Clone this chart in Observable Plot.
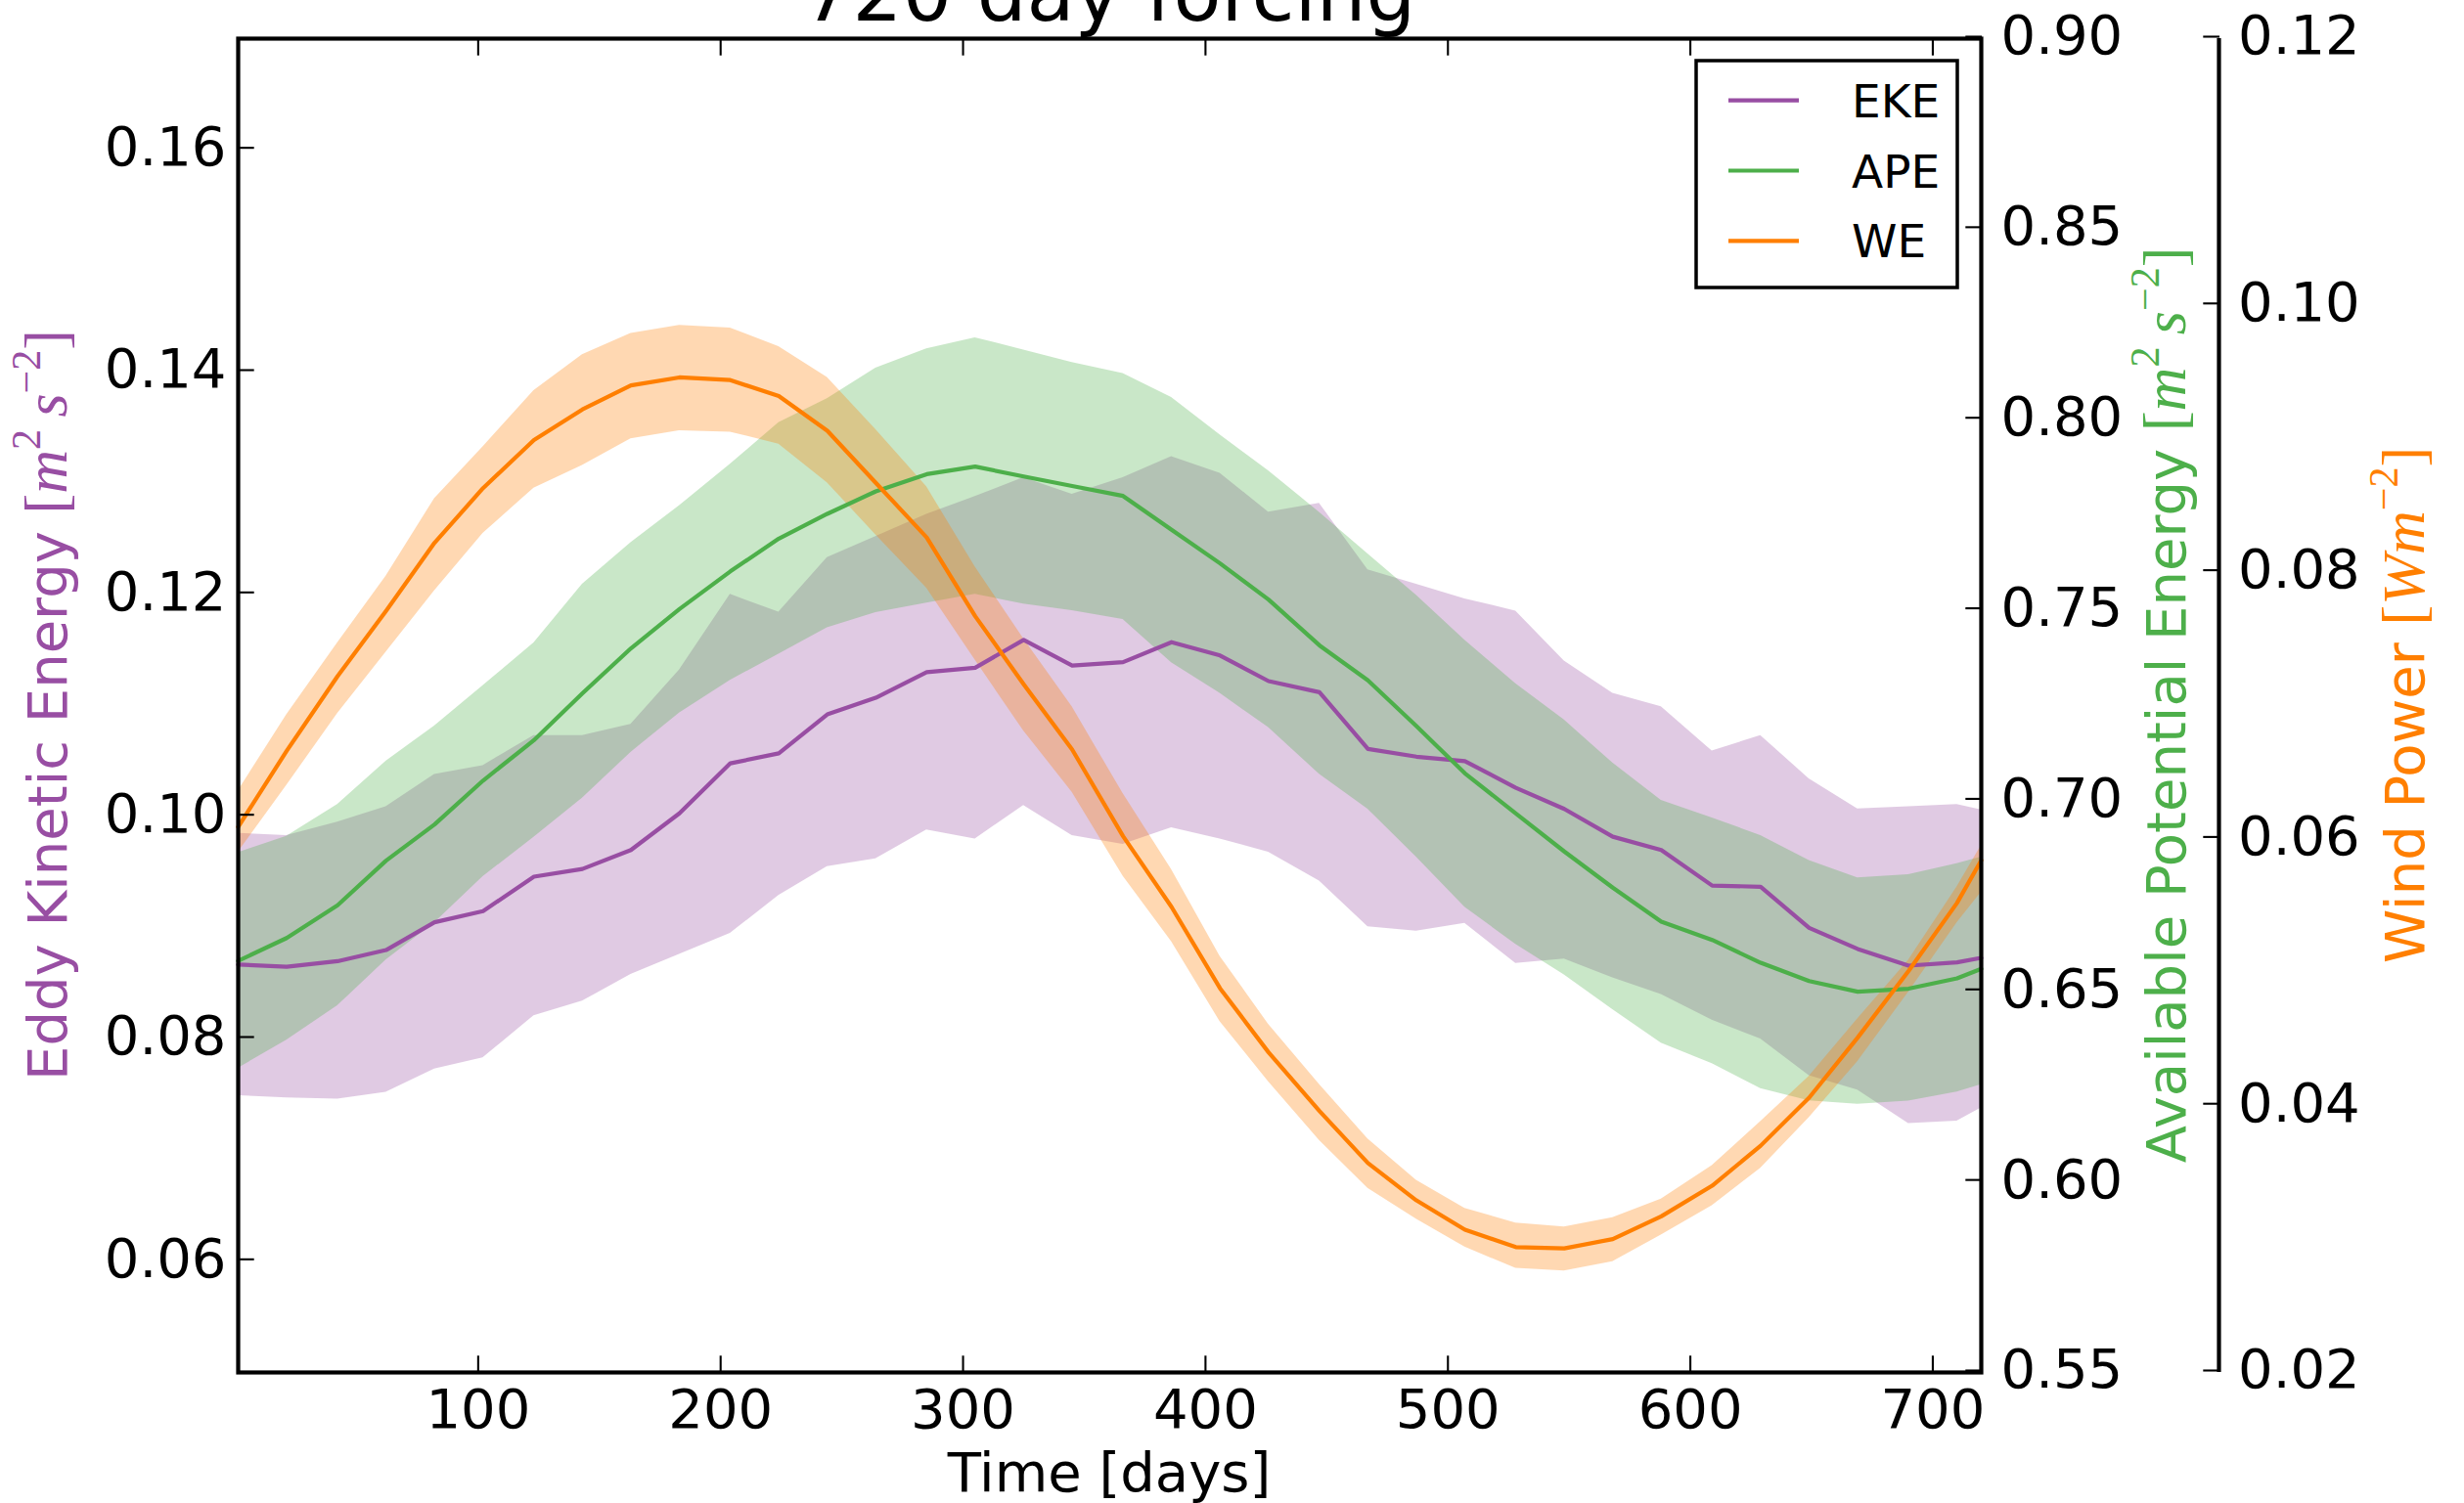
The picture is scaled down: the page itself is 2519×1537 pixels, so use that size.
<!DOCTYPE html>
<html>
<head>
<meta charset="utf-8">
<script src="https://cdn.jsdelivr.net/npm/d3@7"></script>
<script src="https://cdn.jsdelivr.net/npm/@observablehq/plot@0.6"></script>
<style>
  html, body { margin: 0; padding: 0; background: #fff; }
  svg { display: block; }
</style>
</head>
<body>
<div id="chart"></div>
<script>
// ---------------- data ----------------
const days = [1, 21, 42, 62, 82, 102, 123, 143, 163, 183, 204, 224, 244, 264, 285, 305, 325, 345, 366, 386,
  406, 426, 447, 467, 487, 507, 528, 548, 568, 588, 609, 629, 649, 669, 690, 710, 720];

const ekeMean = [0.0867,0.0865,0.0870,0.0880,0.0905,0.0915,0.0946,0.0953,0.0970,0.1003,
  0.1048,0.1057,0.1092,0.1107,0.1130,0.1134,0.1159,0.1136,0.1139,0.1157,
  0.1145,0.1122,0.1112,0.1061,0.1054,0.1050,0.1026,0.1007,0.0982,0.0970,
  0.0938,0.0937,0.0900,0.0881,0.0866,0.0869,0.0873];
const ekeUpper = [0.0985,0.0983,0.0995,0.1009,0.1038,0.1046,0.1073,0.1073,0.1083,0.1132,
  0.1200,0.1184,0.1233,0.1252,0.1272,0.1288,0.1305,0.1290,0.1305,0.1324,
  0.1309,0.1274,0.1282,0.1222,0.1209,0.1196,0.1185,0.1140,0.1111,0.1099,
  0.1059,0.1073,0.1034,0.1007,0.1009,0.1011,0.1006];
const ekeLower = [0.0749,0.0747,0.0746,0.0752,0.0773,0.0783,0.0821,0.0834,0.0858,0.0876,
  0.0895,0.0929,0.0955,0.0962,0.0988,0.0980,0.1010,0.0983,0.0975,0.0990,
  0.0980,0.0968,0.0942,0.0901,0.0897,0.0904,0.0868,0.0872,0.0855,0.0840,
  0.0817,0.0800,0.0767,0.0754,0.0724,0.0726,0.0738];

const apeMean = [0.6580,0.6640,0.6726,0.6843,0.6938,0.7053,0.7159,0.7282,0.7400,0.7503,
  0.7602,0.7688,0.7753,0.7812,0.7857,0.7877,0.7851,0.7826,0.7800,0.7711,
  0.7623,0.7528,0.7408,0.7316,0.7196,0.7072,0.6967,0.6867,0.6772,0.6683,
  0.6635,0.6575,0.6527,0.6499,0.6507,0.6534,0.6559];
const apeUpper = [0.6864,0.6907,0.6990,0.7104,0.7196,0.7302,0.7414,0.7568,0.7677,0.7774,
  0.7883,0.7992,0.8055,0.8135,0.8186,0.8215,0.8183,0.8150,0.8121,0.8058,
  0.7960,0.7866,0.7757,0.7648,0.7539,0.7421,0.7307,0.7212,0.7099,0.7001,
  0.6955,0.6909,0.6843,0.6798,0.6806,0.6835,0.6852];
const apeLower = [0.6298,0.6372,0.6462,0.6582,0.6680,0.6801,0.6904,0.7007,0.7127,0.7230,
  0.7316,0.7385,0.7454,0.7494,0.7519,0.7542,0.7516,0.7499,0.7476,0.7362,
  0.7282,0.7192,0.7070,0.6978,0.6852,0.6721,0.6623,0.6543,0.6452,0.6364,
  0.6310,0.6245,0.6213,0.6204,0.6212,0.6236,0.6255];

const weMean = [0.0609,0.0666,0.0722,0.0771,0.0822,0.0863,0.0899,0.0922,0.0940,0.0946,
  0.0944,0.0932,0.0906,0.0867,0.0826,0.0767,0.0716,0.0667,0.0602,0.0549,
  0.0488,0.0440,0.0396,0.0357,0.0329,0.0307,0.0294,0.0293,0.0300,0.0317,
  0.0340,0.0370,0.0406,0.0451,0.0501,0.0552,0.0584];
const weUpper = [0.0636,0.0693,0.0747,0.0797,0.0855,0.0894,0.0936,0.0963,0.0979,0.0985,
  0.0983,0.0969,0.0946,0.0907,0.0864,0.0804,0.0750,0.0699,0.0634,0.0577,
  0.0512,0.0461,0.0416,0.0375,0.0344,0.0323,0.0312,0.0309,0.0316,0.0330,
  0.0355,0.0388,0.0422,0.0465,0.0509,0.0564,0.0595];
const weLower = [0.0590,0.0640,0.0694,0.0740,0.0786,0.0829,0.0863,0.0880,0.0900,0.0906,
  0.0905,0.0896,0.0867,0.0828,0.0788,0.0734,0.0681,0.0635,0.0572,0.0523,
  0.0463,0.0418,0.0374,0.0338,0.0315,0.0294,0.0278,0.0276,0.0283,0.0303,
  0.0325,0.0353,0.0391,0.0433,0.0485,0.0537,0.0560];

const seriesNames = ["EKE", "APE", "WE"];
const xTicks = [100, 200, 300, 400, 500, 600, 700];
const ekeTicks = [0.06, 0.08, 0.10, 0.12, 0.14, 0.16];
const apeTicks = [0.55, 0.60, 0.65, 0.70, 0.75, 0.80, 0.85, 0.90];
const weTicks = [0.02, 0.04, 0.06, 0.08, 0.10, 0.12];

const ekeDomain = [0.05, 0.17];
const apeDomain = [0.55, 0.90];
const weDomain = [0.02, 0.12];
const xDomain = [1, 720];

// ---------------- styling ----------------
const PURPLE = "#984ea3", GREEN = "#4daf4a", ORANGE = "#ff7f00";
const W = 2519, H = 1537;
const mL = 243, mR = 494, mT = 39, mB = 134;
const LW = 4.2, TICK = 16.7, TW = 2.1;
const thirdOffset = 243;

// secondary axes map into the primary (EKE) y scale
const apeToY = d3.scaleLinear(apeDomain, ekeDomain);
const weToY = d3.scaleLinear(weDomain, ekeDomain);

const rows = days.map((d, i) => ({
  day: d,
  ekeM: ekeMean[i], ekeU: ekeUpper[i], ekeL: ekeLower[i],
  apeM: apeToY(apeMean[i]), apeU: apeToY(apeUpper[i]), apeL: apeToY(apeLower[i]),
  weM: weToY(weMean[i]), weU: weToY(weUpper[i]), weL: weToY(weLower[i])
}));

const f2 = d3.format(".2f");

const plot = Plot.plot({
  width: W, height: H,
  marginLeft: mL, marginRight: mR, marginTop: mT, marginBottom: mB,
  style: {fontFamily: "'DejaVu Sans'", fontSize: "56px", background: "white", color: "black"},
  x: {domain: xDomain},
  y: {domain: ekeDomain},
  marks: [
    Plot.areaY(rows, {x: "day", y1: "ekeL", y2: "ekeU", fill: PURPLE, fillOpacity: 0.3}),
    Plot.areaY(rows, {x: "day", y1: "apeL", y2: "apeU", fill: GREEN, fillOpacity: 0.3}),
    Plot.areaY(rows, {x: "day", y1: "weL", y2: "weU", fill: ORANGE, fillOpacity: 0.3}),
    Plot.lineY(rows, {x: "day", y: "ekeM", stroke: PURPLE, strokeWidth: LW}),
    Plot.lineY(rows, {x: "day", y: "apeM", stroke: GREEN, strokeWidth: LW}),
    Plot.lineY(rows, {x: "day", y: "weM", stroke: ORANGE, strokeWidth: LW}),
    Plot.frame({stroke: "black", strokeWidth: LW}),
    Plot.axisX(xTicks, {anchor: "bottom", tickSize: -TICK, tickPadding: TICK + 17, strokeWidth: TW, stroke: "black", fill: "black", label: null}),
    Plot.axisX(xTicks, {anchor: "top", tickSize: -TICK, strokeWidth: TW, stroke: "black", fill: "none", label: null}),
    Plot.axisY(ekeTicks, {anchor: "left", tickSize: -TICK, tickPadding: TICK + 12, strokeWidth: TW, stroke: "black", fill: "black", tickFormat: f2, dy: -2, label: null}),
    Plot.axisY(apeTicks.map(apeToY), {anchor: "right", tickSize: -TICK, tickPadding: TICK + 20, strokeWidth: TW, stroke: "black", fill: "black", tickFormat: d => f2(apeToY.invert(d)), dy: -2, label: null}),
    Plot.axisY(weTicks.map(weToY), {anchor: "right", dx: thirdOffset, tickSize: -TICK, tickPadding: TICK + 19.5, strokeWidth: TW, stroke: "black", fill: "black", tickFormat: d => f2(weToY.invert(d)), dy: -2, label: null}),
    Plot.ruleX([xDomain[1]], {dx: thirdOffset, stroke: "black", strokeWidth: LW})
  ]
});

document.getElementById("chart").appendChild(plot);

// ---------------- texts: title, axis labels, legend ----------------
const svg = d3.select(plot);
const cx = mL + (W - mL - mR) / 2;
const cy = mT + (H - mT - mB) / 2;
const SANS = "'DejaVu Sans'";
const MATH = "'Liberation Serif', 'DejaVu Serif', serif";

// title: sits partly above the top edge, as in the reference
svg.append("text")
  .attr("x", cx).attr("y", 21)
  .attr("text-anchor", "middle")
  .style("font-family", SANS).style("font-size", "80px").attr("fill", "black")
  .text("720 day forcing");

svg.append("text")
  .attr("x", cx).attr("y", 1525)
  .attr("text-anchor", "middle")
  .style("font-family", SANS).style("font-size", "56px").attr("fill", "black")
  .text("Time [days]");

// rotated label with math-style units; parts: [text, italic?, superscript?]
function vLabel(x, color, name, units) {
  const t = svg.append("text")
    .attr("transform", `translate(${x},${cy}) rotate(-90)`)
    .attr("text-anchor", "middle")
    .attr("fill", color)
    .style("font-family", SANS).style("font-size", "56px");
  t.append("tspan").text(name + " ");
  let raised = false;
  units.forEach(([s, ital, sup]) => {
    const ts = t.append("tspan")
      .style("font-family", MATH)
      .style("font-style", ital ? "italic" : "normal")
      .style("font-size", sup ? "42px" : "62px")
      .text(s);
    if (sup && !raised) { ts.attr("dy", -27); raised = true; }
    else if (!sup && raised) { ts.attr("dy", 27); raised = false; }
  });
}
vLabel(68, PURPLE, "Eddy Kinetic Energy",
  [["[", false, false], ["m", true, false], ["2", false, true], ["\u2009", false, false], ["s", true, false], ["\u2212", false, true], ["2", false, true], ["]", false, false]]);
vLabel(2234, GREEN, "Available Potential Energy",
  [["[", false, false], ["m", true, false], ["2", false, true], ["\u2009", false, false], ["s", true, false], ["\u2212", false, true], ["2", false, true], ["]", false, false]]);
vLabel(2478, ORANGE, "Wind Power",
  [["[", false, false], ["W", true, false], ["m", true, false], ["\u2212", false, true], ["2", false, true], ["]", false, false]]);

// legend
const legendColors = [PURPLE, GREEN, ORANGE];
const lg = svg.append("g");
lg.append("rect").attr("x", 1734).attr("y", 62).attr("width", 267).attr("height", 232)
  .attr("fill", "white").attr("stroke", "black").attr("stroke-width", 3.5);
seriesNames.forEach((name, i) => {
  const y = 102.7 + i * 71.8;
  lg.append("line").attr("x1", 1767).attr("x2", 1839).attr("y1", y).attr("y2", y)
    .attr("stroke", legendColors[i]).attr("stroke-width", LW);
  lg.append("text").attr("x", 1893).attr("y", y + 17)
    .attr("text-anchor", "start")
    .style("font-family", SANS).style("font-size", "47px").attr("fill", "black")
    .text(name);
});
</script>
</body>
</html>
